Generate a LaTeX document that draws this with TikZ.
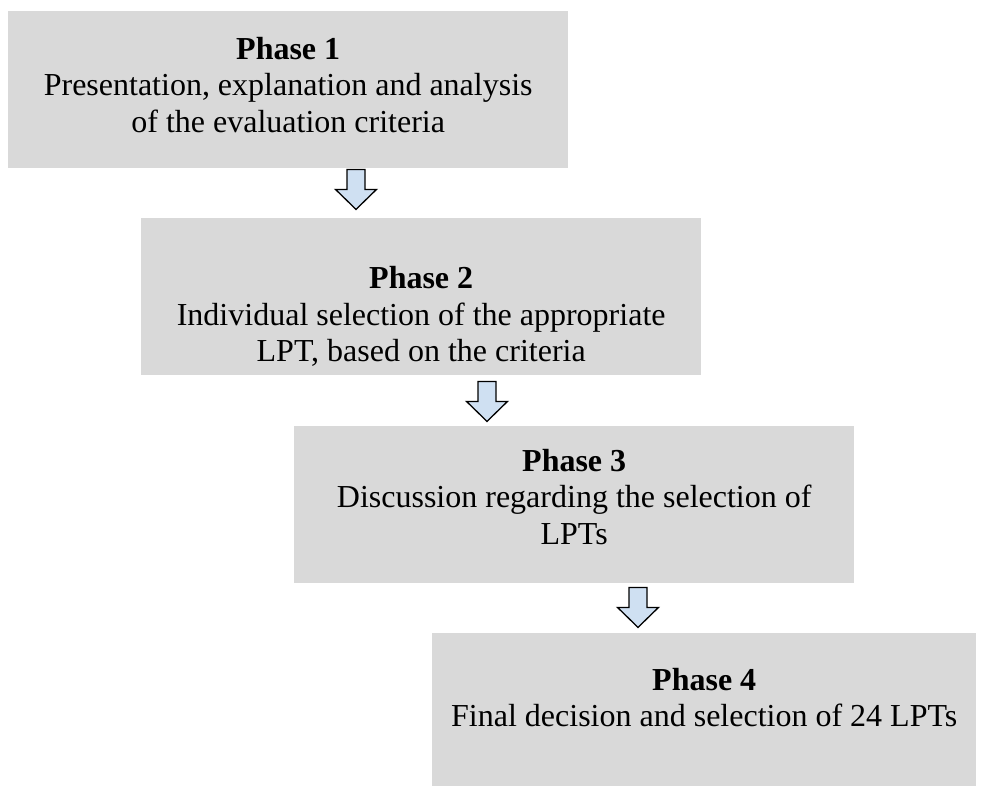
\documentclass[tikz,border=0pt]{standalone}
\usepackage{fontspec}
\setmainfont{Liberation Serif}
\definecolor{boxgray}{RGB}{217,217,217}
\definecolor{arrowblue}{RGB}{207,224,242}
\tikzset{
  phasebox/.style={fill=boxgray, draw=none, anchor=north west, minimum width=560pt, minimum height=157pt, inner sep=0pt},
  phasetext/.style={align=center, font=\fontsize{32}{36.5}\selectfont, inner sep=0pt, text=black},
  arrowstyle/.style={draw=black, fill=arrowblue, line width=1.3pt, line join=miter},
  blockarrow/.pic={\path[arrowstyle] (-9,0) -- (9,0) -- (9,20) -- (20.5,20) -- (0,40) -- (-20.5,20) -- (-9,20) -- cycle;}
}
\begin{document}
\begin{tikzpicture}[x=1pt,y=-1pt]
\useasboundingbox (0,0) rectangle (981,785);
\node[phasebox] (p1) at (8,11) {};
\node[phasebox] (p2) at (141,218) {};
\node[phasebox] (p3) at (294,426) {};
\node[phasebox, minimum width=544pt] (p4) at (432,633) {};
\node[phasetext] (t1) at ([yshift=5pt]p1.center) {\textbf{Phase 1}\\Presentation, explanation and analysis\\of the evaluation criteria};
\node[phasetext] (t2) at ([yshift=-20pt]p2.center) {\textbf{Phase 2}\\Individual selection of the appropriate\\LPT, based on the criteria};
\node[phasetext] (t3) at ([yshift=8pt]p3.center) {\textbf{Phase 3}\\Discussion regarding the selection of\\LPTs};
\node[phasetext] (t4) at ([yshift=14pt]p4.center) {\textbf{Phase 4}\\Final decision and selection of 24 LPTs};
\coordinate (a1) at ([yshift=-1pt]p1.south -| 356,0);
\coordinate (a2) at ([yshift=-6pt]p2.south -| 487,0);
\coordinate (a3) at ([yshift=-4pt]p3.south -| 638,0);
\pic at (a1) {blockarrow};
\pic at (a2) {blockarrow};
\pic at (a3) {blockarrow};
\end{tikzpicture}
\end{document}
